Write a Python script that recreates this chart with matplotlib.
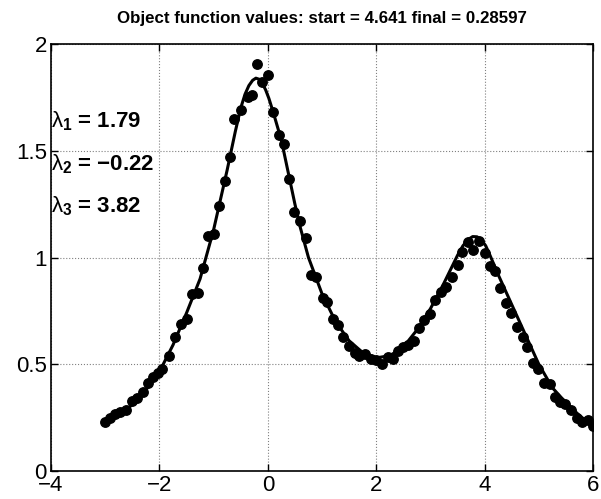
import numpy as np
from matplotlib import pyplot as plt

plt.rcParams['font.family'] = ['Liberation Sans', 'DejaVu Sans']
plt.rcParams['mathtext.fontset'] = 'custom'
plt.rcParams['mathtext.rm'] = 'Liberation Sans'
plt.rcParams['mathtext.it'] = 'Liberation Sans:italic'
plt.rcParams['mathtext.bf'] = 'Liberation Sans:bold'

x_data = [-3.00, -2.91, -2.82, -2.72, -2.62, -2.51, -2.42, -2.31, -2.21, -2.12,
          -2.03, -1.95, -1.82, -1.71, -1.60, -1.50, -1.40, -1.29, -1.20, -1.10,
          -0.99, -0.90, -0.79, -0.70, -0.62, -0.50, -0.37, -0.29, -0.20, -0.11,
          0.01, 0.10, 0.20, 0.29, 0.40, 0.49, 0.60, 0.71, 0.80, 0.89,
          1.01, 1.10, 1.20, 1.29, 1.39, 1.50, 1.60, 1.69, 1.80, 1.91,
          2.00, 2.10, 2.21, 2.31, 2.40, 2.50, 2.59, 2.69, 2.79, 2.89,
          3.00, 3.09, 3.19, 3.29, 3.39, 3.50, 3.59, 3.69, 3.79, 3.90,
          4.00, 4.10, 4.19, 4.29, 4.40, 4.49, 4.59, 4.70, 4.79, 4.89,
          4.99, 5.10, 5.20, 5.30, 5.39, 5.49, 5.60, 5.70, 5.80, 5.90, 6.00]
y_data = [0.23, 0.25, 0.265, 0.275, 0.285, 0.33, 0.34, 0.37, 0.41, 0.44,
          0.46, 0.48, 0.54, 0.63, 0.69, 0.714, 0.83, 0.835, 0.952, 1.10,
          1.11, 1.24, 1.36, 1.47, 1.65, 1.69, 1.75, 1.76, 1.905, 1.82,
          1.855, 1.68, 1.575, 1.53, 1.37, 1.215, 1.17, 1.09, 0.92, 0.91,
          0.81, 0.79, 0.714, 0.682, 0.628, 0.587, 0.555, 0.537, 0.55, 0.523,
          0.52, 0.50, 0.535, 0.525, 0.563, 0.58, 0.589, 0.608, 0.669, 0.706,
          0.737, 0.802, 0.838, 0.864, 0.911, 0.963, 1.025, 1.072, 1.033, 1.079,
          1.02, 0.958, 0.936, 0.858, 0.785, 0.74, 0.674, 0.627, 0.581, 0.505,
          0.478, 0.41, 0.406, 0.347, 0.322, 0.315, 0.287, 0.248, 0.23, 0.238, 0.21]

# fitted curve
x_fit = [-3.0, -2.75, -2.5, -2.25, -2.0, -1.75, -1.5, -1.25, -1.0, -0.75,
         -0.6, -0.5, -0.42, -0.35, -0.28, -0.22, -0.16, -0.1, -0.04, 0.02,
         0.1, 0.25, 0.4, 0.5, 0.6, 0.75, 1.0, 1.25, 1.5, 1.75,
         2.0, 2.25, 2.5, 2.75, 3.0, 3.25, 3.5, 3.6, 3.7, 3.78,
         3.86, 3.94, 4.02, 4.1, 4.25, 4.5, 4.75, 5.0, 5.25, 5.5,
         5.75, 6.0]
y_fit = [0.23, 0.265, 0.31, 0.38, 0.465, 0.59, 0.74, 0.90, 1.13, 1.41,
         1.59, 1.70, 1.765, 1.805, 1.83, 1.84, 1.835, 1.815, 1.785, 1.745,
         1.68, 1.55, 1.37, 1.25, 1.14, 1.00, 0.83, 0.70, 0.61, 0.555,
         0.53, 0.54, 0.58, 0.66, 0.76, 0.88, 1.01, 1.055, 1.085, 1.098,
         1.097, 1.083, 1.055, 1.01, 0.92, 0.78, 0.64, 0.50, 0.39, 0.32,
         0.26, 0.21]

lam_labels = [r'$\mathrm{\lambda}_{\mathbf{1}}$ = 1.79',
              r'$\mathrm{\lambda}_{\mathbf{2}}$ = $\mathbf{-}$0.22',
              r'$\mathrm{\lambda}_{\mathbf{3}}$ = 3.82']
lam_y = [1.61, 1.41, 1.21]

fig = plt.figure(figsize=(6.01, 4.99), dpi=100)
ax = fig.add_axes([0.0849, 0.0561, 0.9018, 0.8557])

ax.plot(x_data, y_data, 'o', color='black', markersize=6.8)
ax.plot(x_fit, y_fit, '-', color='black', linewidth=2.2)

for txt, yy in zip(lam_labels, lam_y):
    ax.text(-4, yy, txt, fontsize=16, fontweight='bold', va='baseline', ha='left')

ax.set_xlim(-4, 6)
ax.set_ylim(0, 2)
ax.set_xticks([-4, -2, 0, 2, 4, 6])
ax.set_yticks([0, 0.5, 1, 1.5, 2])
ax.set_xticklabels(['\u22124', '\u22122', '0', '2', '4', '6'])
ax.set_yticklabels(['0', '0.5', '1', '1.5', '2'])
ax.tick_params(direction='in', top=True, right=True, labelsize=16, length=5, width=1, pad=3)
ax.grid(True, linestyle=':', color='gray', linewidth=0.8)
for s in ax.spines.values():
    s.set_linewidth(1.2)

ax.set_title('Object function values: start = 4.641 final = 0.28597',
             fontsize=12.2, fontweight='bold', pad=15)

plt.savefig('out.png', dpi=100)
